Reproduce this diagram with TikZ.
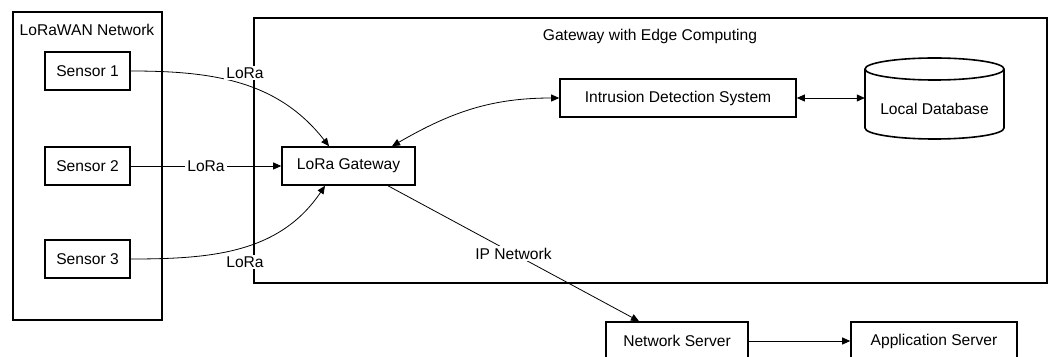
\documentclass[tikz,border=0pt]{standalone}
\usepackage{fontspec}
\setmainfont{Liberation Sans}
\usetikzlibrary{arrows.meta,calc}
\begin{document}
\begin{tikzpicture}[x=1pt,y=1pt,
  font=\fontsize{15.6}{18}\selectfont,
  box/.style={draw, line width=1.6pt, minimum height=38pt, inner sep=0pt},
  group/.style={draw, line width=1.6pt, inner sep=0pt},
  tipA/.tip={Triangle[length=8pt,width=7pt]},
  conn/.style={line width=0.8pt, -tipA},
  biconn/.style={line width=0.8pt, tipA-tipA},
  lbl/.style={fill=white, inner sep=2pt}]
\useasboundingbox (0,0) rectangle (1054,356);
% groups
\node[group, minimum width=149pt, minimum height=308pt] (lorawan) at (87.5,190) {};
\node (lorawantitle) at (87,326) {LoRaWAN Network};
\node[group, minimum width=793pt, minimum height=265pt] (edge) at (650.5,205.5) {};
\node (edgetitle) at (650,320) {Gateway with Edge Computing};
% nodes
\node[box, minimum width=85pt] (s1) at (87.5,285) {Sensor 1};
\node[box, minimum width=85pt] (s2) at (87.5,190) {Sensor 2};
\node[box, minimum width=85pt] (s3) at (87.5,97) {Sensor 3};
\node[box, minimum width=133pt] (gw) at (348.5,190) {LoRa Gateway};
\node[box, minimum width=236pt] (ids) at (678,258) {Intrusion Detection System};
\node[box, minimum width=142pt] (ns) at (677,15) {Network Server};
\node[box, minimum width=166pt] (app) at (934,15) {Application Server};
% database cylinder
\draw[line width=1.6pt, fill=white] (865,287) -- (865,228) arc[start angle=180, end angle=360, x radius=69.5pt, y radius=11pt] -- (1004,287);
\draw[line width=1.6pt] (934.5,287) ellipse[x radius=69.5pt, y radius=11pt];
\node[minimum width=139pt, minimum height=50pt, inner sep=0pt] (db) at (934.5,247) {Local Database};
% connectors
\draw[conn] (s1.east) to[out=0, in=128] ([xshift=-19.5pt]gw.north);
\draw[conn] (s2.east) -- node[lbl] (l2) {LoRa} (gw.west);
\draw[conn] (s3.east) to[out=0, in=-124] ([xshift=-23.5pt]gw.south);
\draw[biconn] ([xshift=43.5pt]gw.north) to[out=30, in=180] (ids.west);
\draw[biconn] (ids.east) -- (ids.east -| db.west);
\draw[conn] ([xshift=39.5pt]gw.south) -- node[lbl] (ipn) {IP Network} ([xshift=-38pt]ns.north);
\draw[conn] (ns.east) -- (app.west);
\node[lbl] (l1) at (245,283) {LoRa};
\node[lbl] (l3) at (245,94) {LoRa};
\end{tikzpicture}
\end{document}
